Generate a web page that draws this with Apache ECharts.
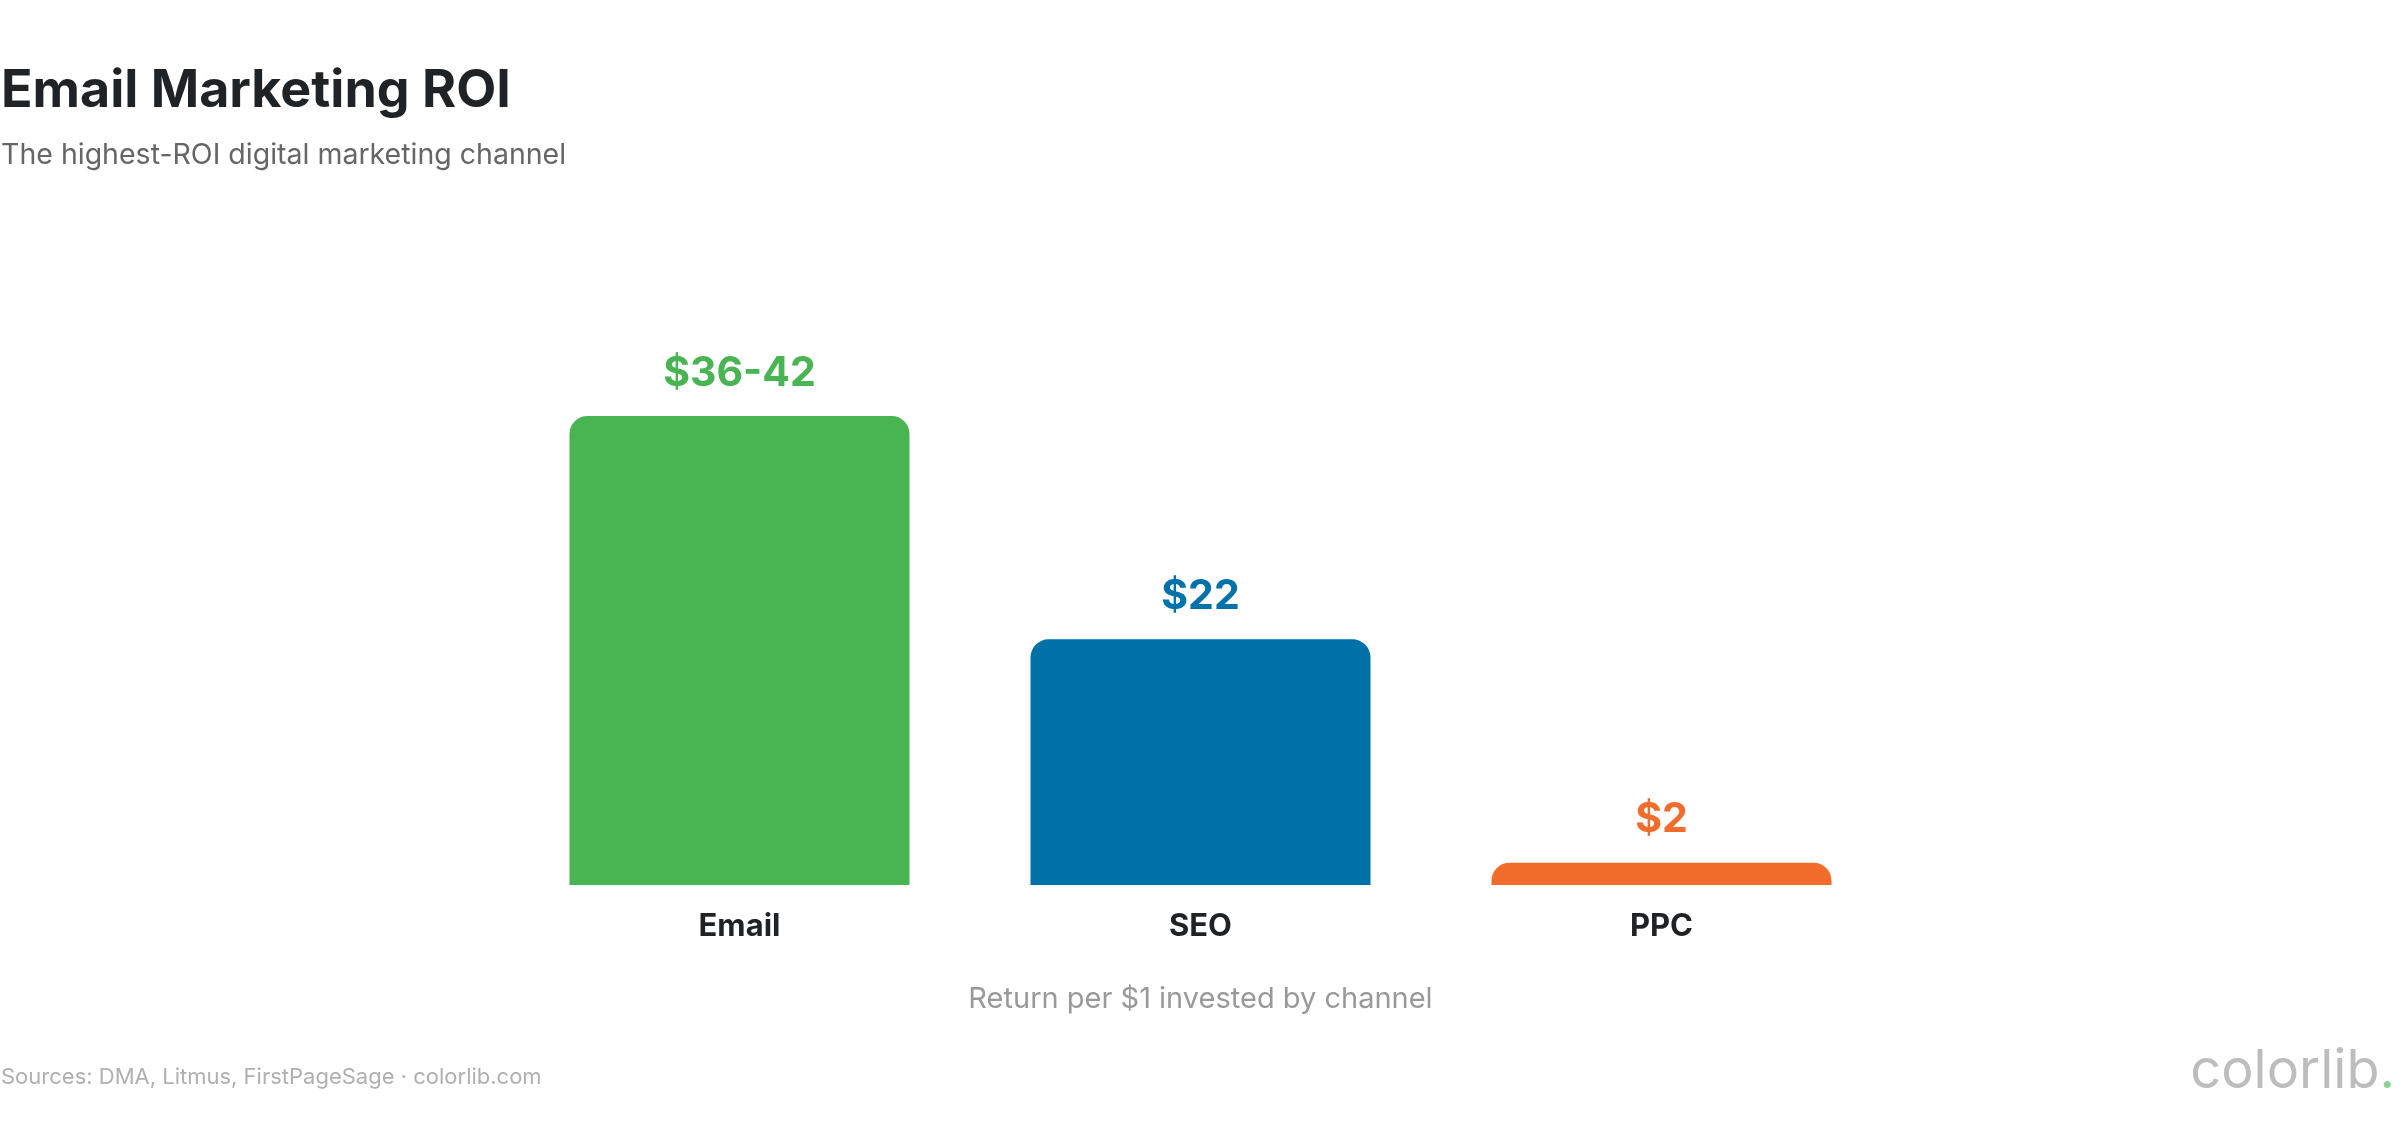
<!DOCTYPE html>
<html lang="en">
<head>
    <meta charset="utf-8">
    <title>Email Marketing ROI</title>
    <script src="https://cdn.jsdelivr.net/npm/echarts@6/dist/echarts.min.js"></script>
</head>
<body style="margin:0;background:#fff">
    <div id="chart" style="width:2400px;height:1130px;"></div>
<script>
    const channels = ['Email', 'SEO', 'PPC'];
    const roiValues = [42, 22, 2];
    const roiLabels = ['$36-42', '$22', '$2'];
    const barColors = ['#48b452', '#0072aa', '#f26d2b'];

    const chart = echarts.init(document.getElementById('chart'));
    const font = 'Inter, "Noto Sans", sans-serif';
    chart.setOption({
        textStyle: { fontFamily: font },
        title: [
            { text: 'Email Marketing ROI', left: -4, top: 60,
              textStyle: { fontSize: 52, fontWeight: 'bold', color: '#1f2326', fontFamily: font } },
            { text: 'The highest-ROI digital marketing channel', left: -4, top: 136,
              textStyle: { fontSize: 28.5, fontWeight: 'normal', color: '#666', fontFamily: font } },
            { text: 'Sources: DMA, Litmus, FirstPageSage · colorlib.com', left: -4, top: 1061,
              textStyle: { fontSize: 22, fontWeight: 'normal', color: '#b0b0b0', fontFamily: font } },
            { text: 'colorlib{d|.}', right: 0, top: 1040,
              textStyle: { fontSize: 54, fontWeight: 'normal', color: '#bdbdbd', fontFamily: font,
                rich: { d: { fontSize: 54, color: '#8fd18f', fontFamily: font } } } }
        ],
        grid: { left: 509, right: 508, top: 416, bottom: 245 },
        xAxis: {
            type: 'category', data: channels,
            name: 'Return per $1 invested by channel', nameLocation: 'middle', nameGap: 100,
            nameTextStyle: { fontSize: 29, color: '#999', fontFamily: font },
            axisLine: { show: false }, axisTick: { show: false },
            axisLabel: { margin: 26, fontSize: 31, fontWeight: 'bold', color: '#1f2326', fontFamily: font }
        },
        yAxis: { type: 'value', min: 0, max: 42, show: false, splitLine: { show: false } },
        series: [{
            type: 'bar', barWidth: 340,
            data: roiValues.map((v, i) => ({
                value: v,
                itemStyle: { color: barColors[i], borderRadius: [18, 18, 0, 0] },
                label: { color: barColors[i] }
            })),
            label: {
                show: true, position: 'top', distance: 22,
                fontSize: 41, fontWeight: 'bold', fontFamily: font,
                formatter: p => roiLabels[p.dataIndex]
            }
        }]
    });
</script>
</body>
</html>
